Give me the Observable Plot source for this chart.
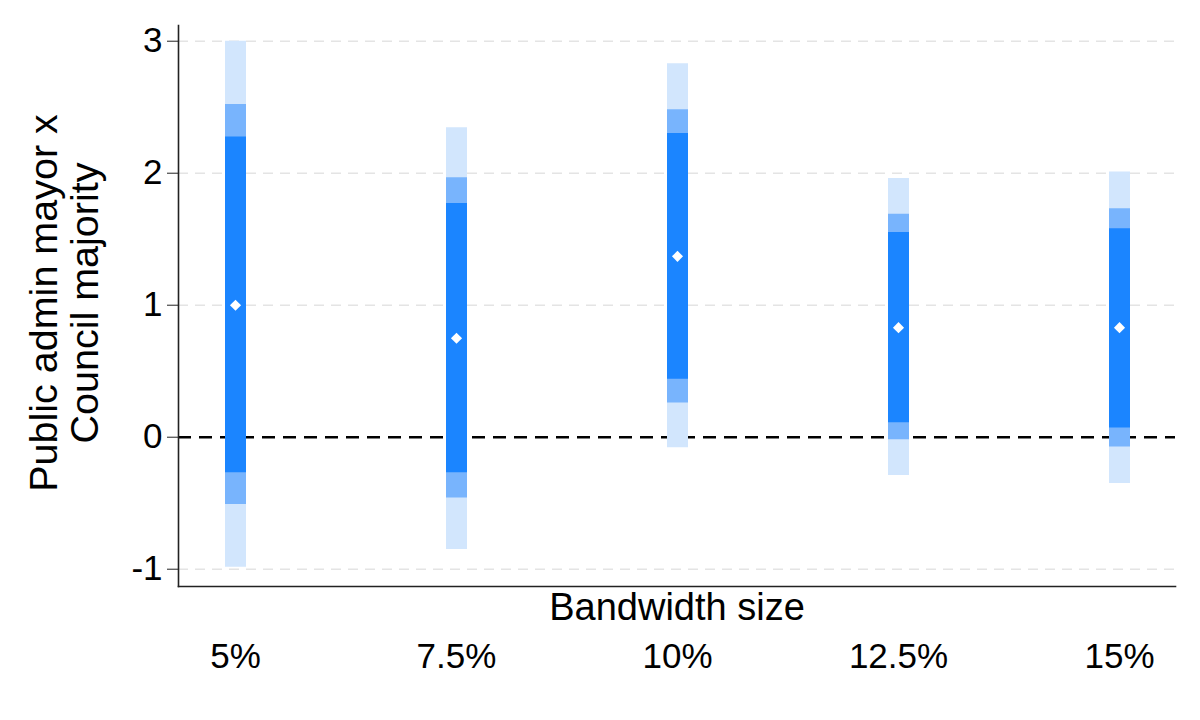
<!DOCTYPE html>
<html>
<head>
<meta charset="utf-8">
<script src="https://cdn.jsdelivr.net/npm/d3@7"></script>
<script src="https://cdn.jsdelivr.net/npm/@observablehq/plot@0.6"></script>
<style>
  html, body { margin: 0; padding: 0; background: #ffffff; }
  #chart { width: 1200px; height: 720px; }
</style>
</head>
<body>
<div id="chart"></div>
<script>
// Bandwidth categories
const bandwidths = ["5%", "7.5%", "10%", "12.5%", "15%"];
// Point estimates
const estimates = [1.00, 0.75, 1.37, 0.83, 0.83];
// 90% CI
const lo90 = [-0.27, -0.27, 0.44, 0.11, 0.07];
const hi90 = [2.275, 1.77, 2.30, 1.55, 1.58];
// 95% CI
const lo95 = [-0.51, -0.46, 0.26, -0.02, -0.075];
const hi95 = [2.52, 1.965, 2.48, 1.69, 1.73];
// 99% CI
const lo99 = [-0.985, -0.85, -0.08, -0.29, -0.35];
const hi99 = [3.0, 2.345, 2.83, 1.96, 2.01];
// Y ticks
const yTicks = [-1, 0, 1, 2, 3];
const gridTicks = [-1, 1, 2, 3];

const yTitle = "Public admin mayor x\nCouncil majority";
const xTitle = "Bandwidth size";

const rows = bandwidths.map((b, i) => ({
  bw: b, est: estimates[i],
  lo90: lo90[i], hi90: hi90[i],
  lo95: lo95[i], hi95: hi95[i],
  lo99: lo99[i], hi99: hi99[i]
}));

const cDark = "#1b85ff";
const cMid = "#78b4fd";
const cLight = "#d2e6fd";
const barW = 21;

const chart = Plot.plot({
  width: 1200,
  height: 720,
  marginLeft: 178,
  marginRight: 25,
  marginTop: 25,
  marginBottom: 134,
  x: { type: "point", domain: bandwidths, padding: 0.248 },
  y: { domain: [-1.131, 3.119] },
  style: { fontFamily: "'Liberation Sans', Arial, sans-serif", background: "#ffffff", color: "#000000" },
  marks: [
    Plot.ruleY(gridTicks, { stroke: "#e4e4e4", strokeWidth: 1.5, strokeDasharray: "10,7" }),
    Plot.ruleY([0], { stroke: "#000000", strokeWidth: 2.6, strokeDasharray: "13,8" }),
    Plot.ruleX(rows, { x: "bw", y1: "lo99", y2: "hi99", stroke: cLight, strokeWidth: barW }),
    Plot.ruleX(rows, { x: "bw", y1: "lo95", y2: "hi95", stroke: cMid, strokeWidth: barW }),
    Plot.ruleX(rows, { x: "bw", y1: "lo90", y2: "hi90", stroke: cDark, strokeWidth: barW }),
    Plot.dot(rows, { x: "bw", y: "est", symbol: "diamond2", r: 5, fill: "#ffffff", stroke: null }),
    Plot.frame({ anchor: "left", stroke: "#222222", strokeWidth: 1.6 }),
    Plot.frame({ anchor: "bottom", stroke: "#222222", strokeWidth: 1.6 }),
    Plot.axisY({ ticks: yTicks, tickSize: 11, tickPadding: 5, fontSize: 35, label: null, tickFormat: d => String(d), stroke: "#222222" }),
    Plot.axisX({ tickSize: 0, tickPadding: 57, fontSize: 35, label: null }),
    Plot.text([xTitle], { text: d => d, frameAnchor: "bottom", dy: 33, fontSize: 38, fill: "#000000" }),
    Plot.text([yTitle], { text: d => d, frameAnchor: "left", dx: -114, dy: -3, rotate: -90, fontSize: 39.5, lineHeight: 1.04, textAnchor: "middle", fill: "#000000" })
  ]
});
document.getElementById("chart").appendChild(chart);
</script>
</body>
</html>
